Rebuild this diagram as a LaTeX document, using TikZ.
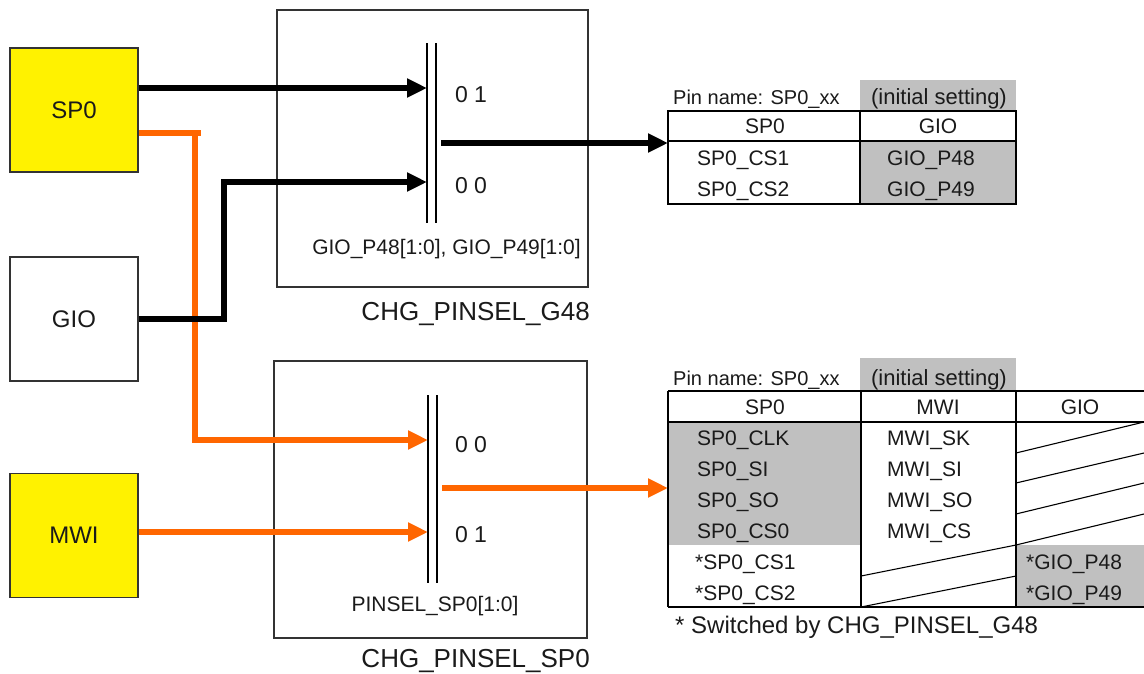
\documentclass[tikz,border=0pt]{standalone}
\usepackage{fontspec}
\setmainfont{Liberation Sans}
\usetikzlibrary{arrows.meta,calc}
\definecolor{wireorange}{HTML}{FF6600}
\definecolor{cellgray}{HTML}{C0C0C0}
\definecolor{edge}{HTML}{333333}
\definecolor{ink}{HTML}{1A1A1A}
\begin{document}
\begin{tikzpicture}[x=1pt,y=-1pt,
  srcbox/.style={draw=edge, line width=1.2pt, minimum width=128pt, minimum height=124pt,
    inner sep=0pt, text=ink, font=\fontsize{24}{28}\selectfont},
  muxbox/.style={draw=edge, line width=1.2pt, inner sep=0pt},
  bar/.style={draw=black, line width=1.3pt},
  wire/.style={line width=5.5pt, line join=miter},
  blackwire/.style={wire, draw=black},
  orangewire/.style={wire, draw=wireorange},
  tip/.style={-{Triangle[length=20pt,width=18pt]}},
  sel/.style={inner sep=0pt, text=ink, font=\fontsize{23}{27}\selectfont},
  lbl/.style={inner sep=0pt, text=ink, font=\fontsize{21}{25}\selectfont},
  title/.style={inner sep=0pt, text=ink, font=\fontsize{26}{30}\selectfont},
  cell/.style={inner sep=0pt, text=ink, font=\fontsize{21}{25}\selectfont},
  note/.style={inner sep=0pt, text=ink, font=\fontsize{20}{24}\selectfont},
  grid/.style={draw=black, line width=1.3pt},
  hatch/.style={draw=black, line width=1.1pt}
]
\useasboundingbox (0,0) rectangle (1144,673);
\fill[white] (0,0) rectangle (1144,673);

% source blocks
\node[srcbox, fill=yellow] (sp0) at (74,110) {SP0};
\node[srcbox, fill=white]  (gio) at (74,319) {GIO};
\node[srcbox, fill=yellow] (mwi) at (74,535.5) {MWI};

% selector blocks
\node[muxbox, minimum width=311pt, minimum height=277pt] (g48) at (432.5,148.5) {};
\node[muxbox, minimum width=313pt, minimum height=277pt] (psp) at (430.5,499.5) {};

% selector bars
\draw[bar] (427,43) -- (427,223);
\draw[bar] (436,43) -- (436,223);
\draw[bar] (428,395) -- (428,583);
\draw[bar] (437,395) -- (437,583);

% bar input / output points
\coordinate (g48in1) at (427,88);
\coordinate (g48in0) at (427,182);
\coordinate (g48out) at (441,143);
\coordinate (pspin0) at (428,440);
\coordinate (pspin1) at (428,532);
\coordinate (pspout) at (442,488);
\coordinate (spbranch) at (195,133);
\coordinate (giobend) at (224,319);
\coordinate (tabA) at (668,143);
\coordinate (tabB) at (668,488);

% selector labels
\node[sel] at (471,95) {0 1};
\node[sel] at (471,186) {0 0};
\node[sel] at (471,445) {0 0};
\node[sel] at (471,535) {0 1};
\node[lbl, anchor=base] at (446.5,254.5) {GIO\_P48[1:0], GIO\_P49[1:0]};
\node[lbl, anchor=base] at (435,611.5) {PINSEL\_SP0[1:0]};
\node[title, anchor=base east] at (590,320) {CHG\_PINSEL\_G48};
\node[title, anchor=base east] at (590,667) {CHG\_PINSEL\_SP0};

% orange signal paths
\draw[orangewire] (sp0.east |- spbranch) -- ([xshift=6pt]spbranch);
\draw[orangewire, tip] (spbranch) |- (pspin0);
\draw[orangewire, tip] (mwi.east |- pspin1) -- (pspin1);
\draw[orangewire, tip] (pspout) -- (tabB);

% black signal paths
\draw[blackwire, tip] (sp0.east |- g48in1) -- (g48in1);
\draw[blackwire, tip] (gio.east) -- (giobend) |- (g48in0);
\draw[blackwire, tip] (g48out) -- (tabA);

% ---------- upper pin table ----------
\fill[cellgray] (860,80) rectangle (1016,111);
\fill[cellgray] (860,141) rectangle (1016,204);
\draw[grid] (668,111) rectangle (1016,204);
\draw[grid] (668,141) -- (1016,141);
\draw[grid] (860,111) -- (860,204);
\node[note, anchor=base west] at (673,104) {Pin name: SP0\_xx};
\node[note, anchor=base, font=\fontsize{22}{26}\selectfont] at (939,104) {(initial setting)};
\node[cell] at (765,126) {SP0};
\node[cell] at (938,126) {GIO};
\node[cell, anchor=base west] at (697,165.5) {SP0\_CS1};
\node[cell, anchor=base west] at (697,196.5) {SP0\_CS2};
\node[cell, anchor=base west] at (887,165.5) {GIO\_P48};
\node[cell, anchor=base west] at (887,196.5) {GIO\_P49};

% ---------- lower pin table ----------
\fill[cellgray] (860,358) rectangle (1016,391);
\fill[cellgray] (668,422) rectangle (861,545);
\fill[cellgray] (1016,545) rectangle (1144,607);
\draw[grid] (668,391) -- (1144,391);
\draw[grid] (668,422) -- (1144,422);
\draw[grid] (668,607) -- (1144,607);
\draw[grid] (668,391) -- (668,607);
\draw[grid] (861,391) -- (861,607);
\draw[grid] (1016,391) -- (1016,607);
% unused cells
\draw[hatch] (1016,453) -- (1144,422);
\draw[hatch] (1016,483) -- (1144,453);
\draw[hatch] (1016,514) -- (1144,483);
\draw[hatch] (1016,545) -- (1144,514);
\draw[hatch] (861,576) -- (1016,545);
\draw[hatch] (861,607) -- (1016,576);

\node[note, anchor=base west] at (673,385) {Pin name: SP0\_xx};
\node[note, anchor=base, font=\fontsize{22}{26}\selectfont] at (939,385) {(initial setting)};
\node[cell] at (765,407) {SP0};
\node[cell] at (938,407) {MWI};
\node[cell] at (1080,407) {GIO};
\node[cell, anchor=base west] at (697,445.5) {SP0\_CLK};
\node[cell, anchor=base west] at (697,476.5) {SP0\_SI};
\node[cell, anchor=base west] at (697,507.5) {SP0\_SO};
\node[cell, anchor=base west] at (697,538.5) {SP0\_CS0};
\node[cell, anchor=base west] at (695,569.5) {*SP0\_CS1};
\node[cell, anchor=base west] at (695,600.5) {*SP0\_CS2};
\node[cell, anchor=base west] at (887,445.5) {MWI\_SK};
\node[cell, anchor=base west] at (887,476.5) {MWI\_SI};
\node[cell, anchor=base west] at (887,507.5) {MWI\_SO};
\node[cell, anchor=base west] at (887,538.5) {MWI\_CS};
\node[cell, anchor=base west] at (1026,569.5) {*GIO\_P48};
\node[cell, anchor=base west] at (1026,600.5) {*GIO\_P49};
\node[cell, anchor=base west, font=\fontsize{24}{28}\selectfont] at (675,633) {* Switched by CHG\_PINSEL\_G48};
\end{tikzpicture}
\end{document}
